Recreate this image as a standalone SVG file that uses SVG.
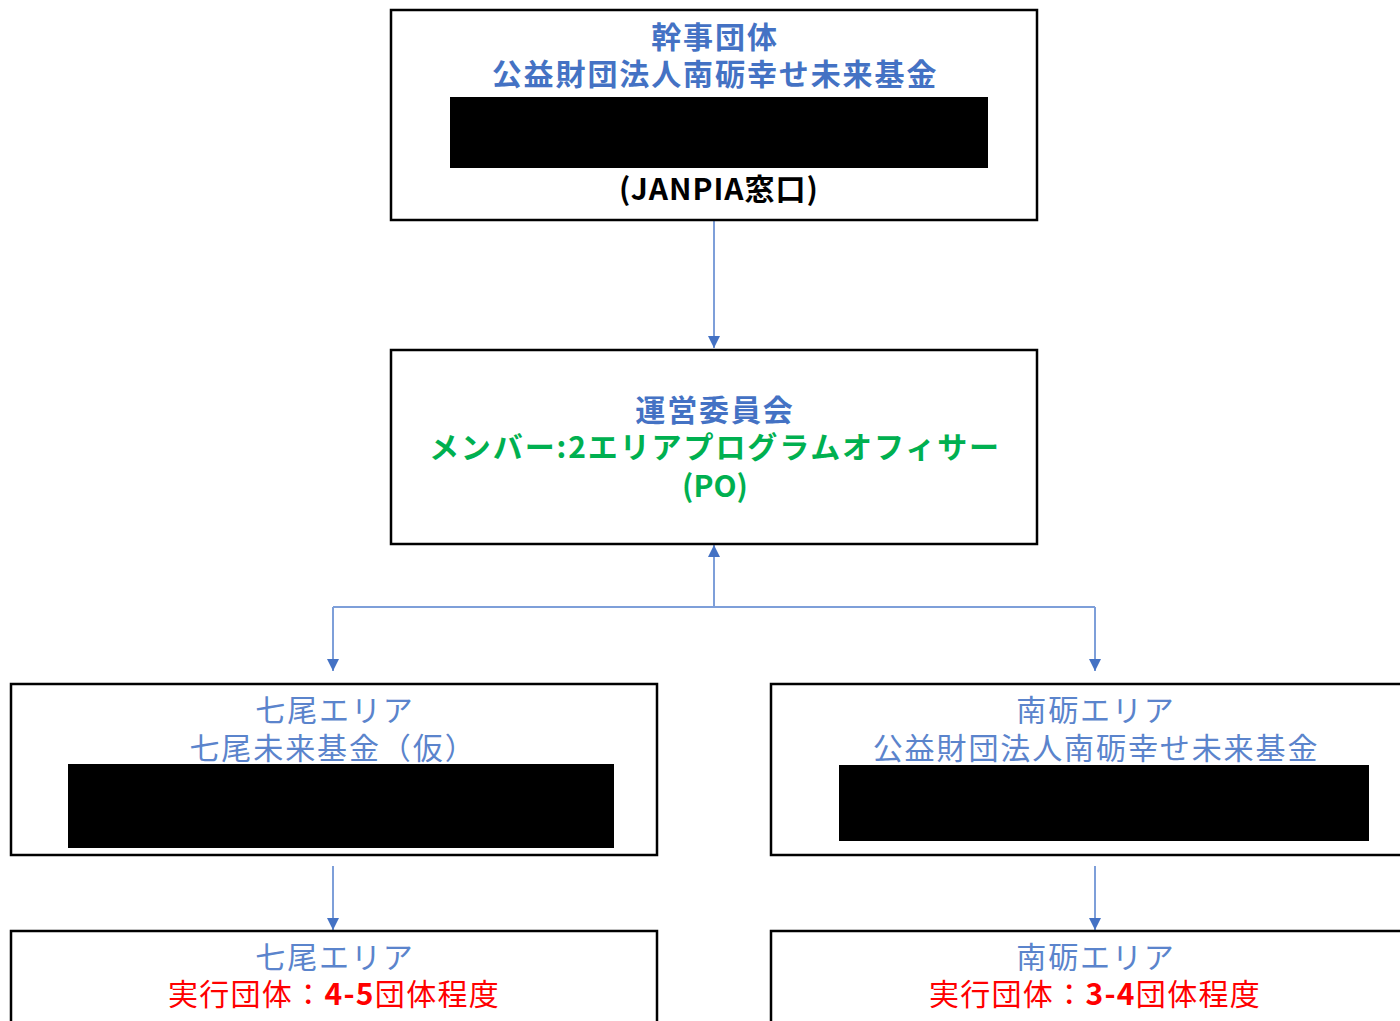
<svg xmlns="http://www.w3.org/2000/svg" width="1400" height="1021" viewBox="0 0 1400 1021">
<style>
.box{fill:#fff;stroke:#000;stroke-width:2.5}
.mask{fill:#000}
.t{font-family:"Noto Sans CJK JP","Noto Sans",sans-serif;font-size:30px;text-anchor:middle;letter-spacing:1.9px}
.b{font-weight:bold}
.blue{fill:#4472C4}
.lb{fill:#5B84CC}
.green{fill:#00B050}
.red{fill:#FF0000;letter-spacing:1.3px}
.blk{fill:#000}
.con{fill:none;stroke:#7E9FD9;stroke-width:2}
</style>
<defs>
<marker id="ad" markerWidth="12" markerHeight="12" refX="6" refY="12" orient="0" markerUnits="userSpaceOnUse" viewBox="0 0 12 12">
<path d="M0,0 L12,0 L6,12 Z" fill="#4472C4"/>
</marker>
<marker id="au" markerWidth="12" markerHeight="12" refX="6" refY="0" orient="0" markerUnits="userSpaceOnUse" viewBox="0 0 12 12">
<path d="M0,12 L12,12 L6,0 Z" fill="#4472C4"/>
</marker>
</defs>
<g id="connectors">
<line class="con" x1="714" y1="221" x2="714" y2="348" marker-end="url(#ad)"/>
<line class="con" x1="714" y1="607" x2="714" y2="545" marker-end="url(#au)"/>
<polyline class="con" points="333,607 1095,607"/>
<line class="con" x1="333" y1="607" x2="333" y2="671" marker-end="url(#ad)"/>
<line class="con" x1="1095" y1="607" x2="1095" y2="671" marker-end="url(#ad)"/>
<line class="con" x1="333" y1="866" x2="333" y2="930" marker-end="url(#ad)"/>
<line class="con" x1="1095" y1="866" x2="1095" y2="930" marker-end="url(#ad)"/>
</g>
<g id="node-top">
<rect class="box" x="391" y="10" width="646" height="210"/>
<text class="t b blue" x="715" y="48">幹事団体</text>
<text class="t b blue" x="715" y="85">公益財団法人南砺幸せ未来基金</text>
<rect class="mask" x="450" y="97" width="538" height="71"/>
<text class="t b blk" x="719" y="200" style="letter-spacing:1px">(JANPIA窓口)</text>
</g>
<g id="node-committee">
<rect class="box" x="391" y="350" width="646" height="194"/>
<text class="t b blue" x="715" y="421">運営委員会</text>
<text class="t b green" x="715" y="458">メンバー:2エリアプログラムオフィサー</text>
<text class="t b green" x="715" y="497" style="letter-spacing:0">(PO)</text>
</g>
<g id="node-nanao">
<rect class="box" x="11" y="684" width="646" height="171"/>
<text class="t lb" x="335" y="721">七尾エリア</text>
<text class="t lb" x="333" y="759">七尾未来基金（仮）</text>
<rect class="mask" x="68" y="764" width="546" height="84"/>
</g>
<g id="node-nanto">
<rect class="box" x="771" y="684" width="660" height="171"/>
<text class="t lb" x="1096" y="721">南砺エリア</text>
<text class="t lb" x="1096" y="759">公益財団法人南砺幸せ未来基金</text>
<rect class="mask" x="839" y="765" width="530" height="76"/>
</g>
<g id="node-nanao-exec">
<rect class="box" x="11" y="931" width="646" height="110"/>
<text class="t lb" x="335" y="968">七尾エリア</text>
<text class="t red" x="334" y="1005">実行団体：<tspan class="b">4-5</tspan>団体程度</text>
</g>
<g id="node-nanto-exec">
<rect class="box" x="771" y="931" width="660" height="110"/>
<text class="t lb" x="1096" y="968">南砺エリア</text>
<text class="t red" x="1095" y="1005">実行団体：<tspan class="b">3-4</tspan>団体程度</text>
</g>
</svg>
